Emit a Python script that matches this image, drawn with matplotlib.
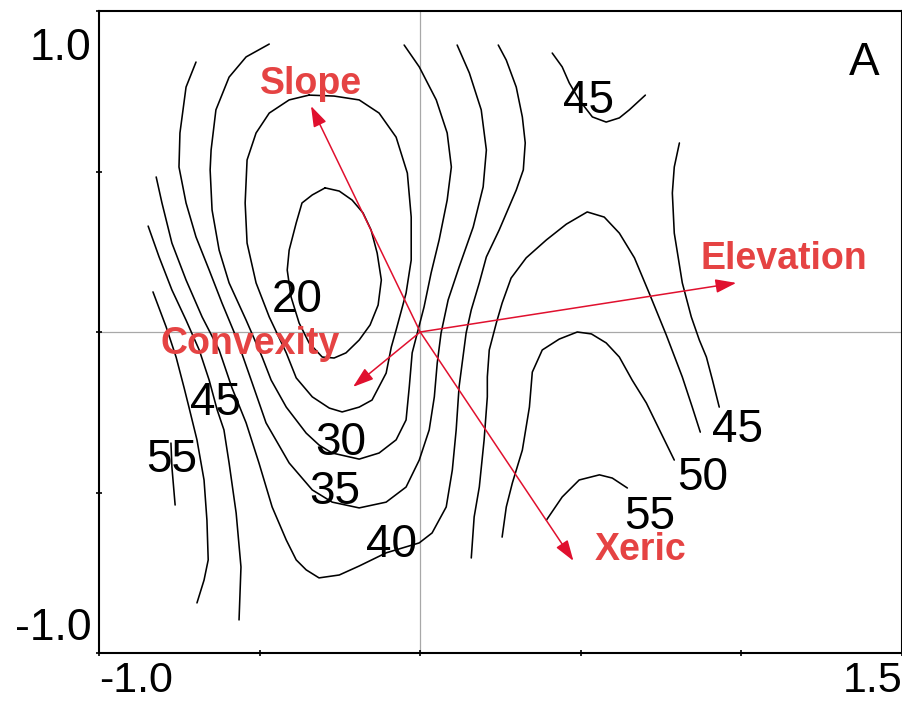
import matplotlib
matplotlib.use("Agg")
import matplotlib.pyplot as plt
import matplotlib.transforms as mtransforms

plt.rcParams["font.family"] = ["Liberation Sans", "DejaVu Sans"]

# ---- contour traces (ordination units) ----
c20_x = [-0.296, -0.252, -0.212, -0.178, -0.153, -0.134, -0.121, -0.131, -0.156, -0.190, -0.231,
         -0.268, -0.305, -0.346, -0.377, -0.402, -0.414, -0.408, -0.386, -0.368, -0.336, -0.296]
c20_y = [0.449, 0.439, 0.411, 0.371, 0.318, 0.246, 0.162, 0.084, 0.022, -0.025, -0.065,
         -0.081, -0.078, -0.034, 0.028, 0.109, 0.193, 0.255, 0.340, 0.402, 0.427, 0.449]

c25_x = [-0.346, -0.268, -0.190, -0.128, -0.075, -0.040, -0.028, -0.028, -0.044, -0.075, -0.090,
         -0.106, -0.150, -0.190, -0.243, -0.283, -0.336, -0.386, -0.417, -0.470, -0.511, -0.539,
         -0.545, -0.539, -0.511, -0.470, -0.408, -0.346]
c25_y = [0.738, 0.735, 0.723, 0.682, 0.607, 0.495, 0.358, 0.224, 0.121, 0.006, -0.047,
         -0.128, -0.212, -0.234, -0.249, -0.237, -0.202, -0.143, -0.065, 0.047, 0.153, 0.277,
         0.402, 0.536, 0.620, 0.682, 0.723, 0.738]

c30_x = [-0.470, -0.542, -0.595, -0.636, -0.651, -0.654, -0.648, -0.626, -0.595, -0.542, -0.492,
         -0.464, -0.417, -0.355, -0.315, -0.274, -0.190, -0.128, -0.075, -0.044, -0.034, -0.025,
         -0.009, 0.012, 0.034, 0.059, 0.084, 0.097, 0.084, 0.050, -0.003, -0.050]
c30_y = [0.897, 0.857, 0.794, 0.692, 0.567, 0.505, 0.380, 0.255, 0.153, 0.037, -0.078,
         -0.150, -0.234, -0.315, -0.352, -0.377, -0.396, -0.377, -0.336, -0.274, -0.171, -0.065,
         -0.003, 0.078, 0.184, 0.287, 0.411, 0.514, 0.620, 0.723, 0.826, 0.894]

c35_x = [-0.698, -0.729, -0.748, -0.751, -0.729, -0.698, -0.657, -0.617, -0.573, -0.523, -0.480,
         -0.408, -0.336, -0.274, -0.190, -0.106, -0.044, -0.003, 0.028, 0.044, 0.053, 0.065,
         0.087, 0.121, 0.165, 0.196, 0.206, 0.190, 0.153, 0.115]
c35_y = [0.841, 0.763, 0.620, 0.514, 0.402, 0.296, 0.193, 0.090, -0.016, -0.159, -0.283,
         -0.408, -0.492, -0.530, -0.548, -0.530, -0.483, -0.399, -0.305, -0.202, -0.097, -0.003,
         0.100, 0.202, 0.327, 0.452, 0.567, 0.692, 0.807, 0.894]

c40_x = [-0.822, -0.804, -0.773, -0.729, -0.679, -0.626, -0.586, -0.542, -0.502, -0.461, -0.417,
         -0.386, -0.355, -0.315, -0.252, -0.190, -0.106, -0.003, 0.037, 0.081, 0.100, 0.112,
         0.121, 0.143, 0.159, 0.184, 0.206, 0.246, 0.299, 0.321, 0.327, 0.318, 0.299, 0.268, 0.243]
c40_y = [0.483, 0.402, 0.277, 0.162, 0.047, -0.056, -0.174, -0.283, -0.408, -0.545, -0.648,
         -0.710, -0.741, -0.766, -0.757, -0.729, -0.688, -0.657, -0.626, -0.545, -0.430, -0.305,
         -0.171, -0.003, 0.069, 0.153, 0.234, 0.318, 0.442, 0.505, 0.589, 0.670, 0.763, 0.847, 0.894]

c45_left_x = [-0.847, -0.813, -0.773, -0.729, -0.688, -0.657, -0.632, -0.611, -0.595, -0.573, -0.558, -0.564]
c45_left_y = [0.330, 0.234, 0.131, 0.037, -0.056, -0.150, -0.243, -0.305, -0.408, -0.564, -0.732, -0.897]

c50_left_x = [-0.832, -0.791, -0.760, -0.735, -0.720, -0.695, -0.673, -0.664, -0.660, -0.673, -0.695]
c50_left_y = [0.125, 0.016, -0.078, -0.174, -0.234, -0.336, -0.461, -0.586, -0.710, -0.773, -0.844]

c55_left_x = [-0.776, -0.773, -0.763]
c55_left_y = [-0.346, -0.421, -0.539]

c45_top_x = [0.411, 0.442, 0.464, 0.495, 0.536, 0.579, 0.620, 0.651, 0.701]
c45_top_y = [0.869, 0.826, 0.776, 0.723, 0.670, 0.654, 0.667, 0.692, 0.738]

c45_right_x = [0.807, 0.791, 0.785, 0.791, 0.816, 0.844, 0.869, 0.891, 0.910, 0.931]
c45_right_y = [0.589, 0.514, 0.433, 0.308, 0.153, 0.047, -0.025, -0.078, -0.150, -0.234]

c50_hump_x = [0.159, 0.168, 0.184, 0.199, 0.209, 0.209, 0.215, 0.237, 0.255, 0.283, 0.330,
              0.393, 0.455, 0.520, 0.573, 0.620, 0.667, 0.713, 0.766, 0.816, 0.847, 0.872]
c50_hump_y = [-0.704, -0.576, -0.483, -0.336, -0.202, -0.140, -0.056, 0.028, 0.090, 0.168, 0.231,
              0.287, 0.336, 0.374, 0.358, 0.308, 0.231, 0.121, -0.009, -0.140, -0.234, -0.312]

c55_hump_x = [0.255, 0.268, 0.287, 0.318, 0.340, 0.349, 0.380, 0.433, 0.489, 0.533, 0.579,
              0.620, 0.660, 0.704, 0.745, 0.791]
c55_hump_y = [-0.639, -0.545, -0.470, -0.368, -0.234, -0.125, -0.056, -0.022, 0.000, -0.006, -0.034,
              -0.078, -0.150, -0.221, -0.305, -0.399]

c60_hump_x = [0.393, 0.442, 0.495, 0.558, 0.598, 0.645]
c60_hump_y = [-0.586, -0.514, -0.461, -0.445, -0.455, -0.486]

contours = [
    (c20_x, c20_y), (c25_x, c25_y), (c30_x, c30_y), (c35_x, c35_y), (c40_x, c40_y),
    (c45_left_x, c45_left_y), (c50_left_x, c50_left_y), (c55_left_x, c55_left_y),
    (c45_top_x, c45_top_y), (c45_right_x, c45_right_y), (c50_hump_x, c50_hump_y),
    (c55_hump_x, c55_hump_y), (c60_hump_x, c60_hump_y),
]

# contour labels
label_text = ["20", "30", "35", "40", "45", "55", "45", "45", "50", "55"]
label_x = [-0.383, -0.246, -0.265, -0.090, -0.636, -0.773, 0.523, 0.988, 0.879, 0.713]
label_y = [0.115, -0.330, -0.483, -0.648, -0.206, -0.383, 0.735, -0.290, -0.439, -0.560]

# environmental vectors (biplot arrows)
env_names = ["Slope", "Elevation", "Convexity", "Xeric"]
env_x = [-0.340, 0.984, -0.209, 0.477]
env_y = [0.704, 0.153, -0.171, -0.713]
env_label_x = [-0.340, 1.131, -0.530, 0.685]
env_label_y = [0.773, 0.227, -0.037, -0.680]

x_ticks = [-1.0, -0.5, 0.0, 0.5, 1.0, 1.5]
x_ticklabels = ["-1.0", "", "", "", "", "1.5"]
y_ticks = [-1.0, -0.5, 0.0, 0.5, 1.0]
y_ticklabels = ["-1.0", "", "", "", "1.0"]

ARROW_COLOR = "#e0102e"
TEXT_RED = "#e54343"


def main():
    fig = plt.figure(figsize=(9.03, 7.07), dpi=100)
    ax = fig.add_axes([99 / 903, 54 / 707, 803 / 903, 642 / 707])
    ax.set_xlim(-1.0, 1.5)
    ax.set_ylim(-1.0, 1.0)

    ax.axhline(0, color="#a8a8a8", lw=0.9, zorder=1)
    ax.axvline(0, color="#a8a8a8", lw=0.9, zorder=1)

    for xs, ys in contours:
        ax.plot(xs, ys, color="black", lw=1.15, zorder=2,
                solid_joinstyle="round", solid_capstyle="round")

    for t, x, y in zip(label_text, label_x, label_y):
        ax.text(x, y, t, fontsize=33, ha="center", va="center_baseline", color="black", zorder=3)

    ax.text(1.383, 0.854, "A", fontsize=33, ha="center", va="center_baseline")

    for name, x, y, lx, ly in zip(env_names, env_x, env_y, env_label_x, env_label_y):
        ax.annotate("", xy=(x, y), xytext=(0, 0),
                    arrowprops=dict(arrowstyle="-|>,head_length=0.9,head_width=0.3",
                                    color=ARROW_COLOR, lw=1.1, shrinkA=0, shrinkB=0,
                                    mutation_scale=14),
                    zorder=4)
        ax.text(lx, ly, name, fontsize=27, fontweight="bold", color=TEXT_RED,
                ha="center", va="center", zorder=5)

    for s in ax.spines.values():
        s.set_linewidth(1.5)

    ax.set_xticks(x_ticks)
    ax.set_xticklabels(x_ticklabels, fontsize=31)
    ax.set_yticks(y_ticks)
    ax.set_yticklabels(y_ticklabels, fontsize=32)
    ax.tick_params(axis="both", direction="inout", length=5, width=1.2)
    ax.tick_params(axis="x", pad=3)
    ax.tick_params(axis="y", pad=3)

    xl = ax.get_xticklabels()
    xl[0].set_ha("left")
    xl[-1].set_ha("right")

    yl = ax.get_yticklabels()
    yl[-1].set_va("top")
    yl[-1].set_transform(yl[-1].get_transform()
                         + mtransforms.ScaledTranslation(0, -0.17, fig.dpi_scale_trans))
    yl[0].set_va("bottom")
    yl[0].set_transform(yl[0].get_transform()
                        + mtransforms.ScaledTranslation(0, 0.04, fig.dpi_scale_trans))

    fig.savefig("out.png", dpi=100)
    plt.close(fig)


if __name__ == "__main__":
    main()
